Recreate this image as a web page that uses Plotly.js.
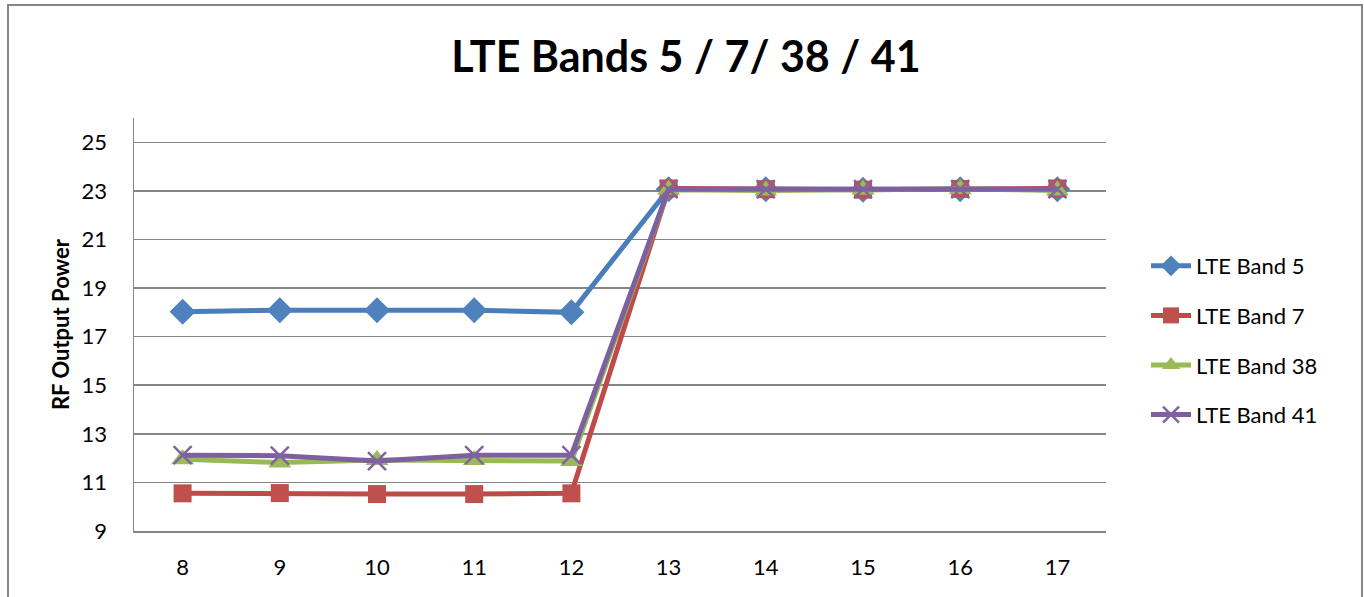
<!DOCTYPE html>
<html>
<head>
<meta charset="utf-8">
<script src="https://cdn.plot.ly/plotly-3.0.1.min.js"></script>
<style>
html,body{margin:0;padding:0;background:#fff;}
#chart{width:1364px;height:597px;}
</style>
</head>
<body>
<div id="chart"></div>
<script>
const categories = ['8','9','10','11','12','13','14','15','16','17'];
const band5  = [18.02, 18.09, 18.09, 18.09, 18.00, 23.07, 23.07, 23.05, 23.07, 23.07];
const band7  = [10.55, 10.56, 10.52, 10.52, 10.55, 23.10, 23.07, 23.05, 23.08, 23.10];
const band38 = [11.95, 11.82, 11.92, 11.92, 11.88, 23.05, 23.02, 23.05, 23.08, 23.02];
const band41 = [12.12, 12.10, 11.88, 12.12, 12.12, 23.07, 23.07, 23.07, 23.07, 23.07];
const seriesNames = ['LTE Band 5', 'LTE Band 7', 'LTE Band 38', 'LTE Band 41'];
const yTickVals = [9, 11, 13, 15, 17, 19, 21, 23, 25];

const FONT = 'Lato, "Open Sans", sans-serif';
const styles = [
  {line:'#4A7EBB', marker:'#4F81BD', symbol:'diamond', size:20},
  {line:'#BE4B48', marker:'#C0504D', symbol:'square', size:18},
  {line:'#98B954', marker:'#9BBB59', symbol:'triangle-up', size:20},
  {line:'#7D60A0', marker:'#8064A2', symbol:'x-thin', size:18}
];
const data = [band5, band7, band38, band41].map((vals, i) => ({
  x: categories,
  y: vals,
  name: seriesNames[i],
  legendgroup: 'g' + i,
  type: 'scatter',
  mode: 'lines+markers',
  line: {color: styles[i].line, width: 5},
  marker: {
    symbol: styles[i].symbol,
    size: styles[i].size,
    color: styles[i].marker,
    line: {color: styles[i].marker, width: styles[i].symbol === 'x-thin' ? 2.5 : 0}
  }
}));

const L = 134, R = 1106, T = 118, B = 531;
const px2x = p => (p - L) / (R - L);
const px2y = p => (B - p) / (B - T);

const layout = {
  width: 1364, height: 597,
  margin: {l: L, r: 1364 - R, t: T, b: 597 - B, pad: 0},
  paper_bgcolor: '#ffffff',
  plot_bgcolor: '#ffffff',
  font: {family: FONT, size: 22, color: '#000'},
  title: {
    text: '<b>LTE Bands 5 / 7/ 38 / 41</b>',
    font: {family: FONT, size: 43, color: '#000'},
    x: 686/1364, xanchor: 'center', xref: 'container',
    y: 1 - 57/597, yanchor: 'middle', yref: 'container'
  },
  xaxis: {
    type: 'category',
    range: [-0.5, 9.5],
    autorange: false,
    showgrid: false,
    showline: true, linecolor: '#868686', linewidth: 1.5,
    ticks: '', ticklen: 0, ticklabelstandoff: 16,
    tickfont: {family: FONT, size: 22, color: '#000'},
    zeroline: false,
    fixedrange: true
  },
  yaxis: {
    range: [9, 26],
    autorange: false,
    tickmode: 'array', tickvals: yTickVals, ticktext: yTickVals.map(String),
    showgrid: true, gridcolor: '#868686', gridwidth: 1.5,
    showline: true, linecolor: '#868686', linewidth: 1.5,
    ticks: '', ticklabelstandoff: 21,
    tickfont: {family: FONT, size: 22, color: '#000'},
    zeroline: false,
    title: {text: '<b>RF Output Power</b>', font: {family: FONT, size: 22, color: '#000'}, standoff: 6},
    fixedrange: true
  },
  legend: {
    x: px2x(1146), xanchor: 'left',
    y: px2y(245), yanchor: 'top',
    font: {family: FONT, size: 22, color: '#000'},
    tracegroupgap: 18,
    itemwidth: 40,
    bgcolor: 'rgba(0,0,0,0)'
  },
  shapes: [{
    type: 'rect', xref: 'paper', yref: 'paper', layer: 'below',
    x0: px2x(8), x1: px2x(1362), y0: px2y(620), y1: px2y(5),
    line: {color: '#868686', width: 2}, fillcolor: 'rgba(0,0,0,0)'
  }],
  showlegend: true
};

Plotly.newPlot('chart', data, layout, {displayModeBar: false, staticPlot: true});
</script>
</body>
</html>
